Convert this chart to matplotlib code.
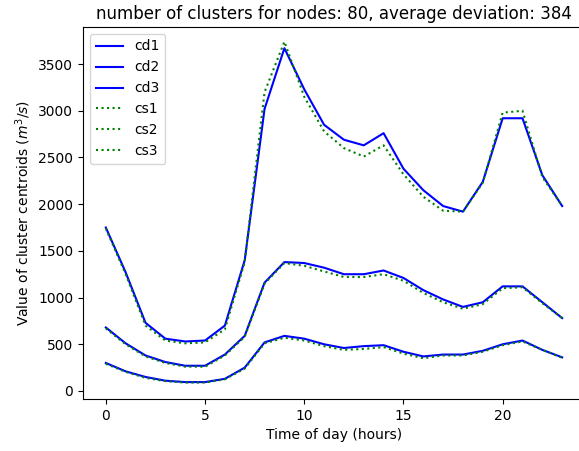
import matplotlib
matplotlib.use('Agg')
import matplotlib.pyplot as plt
import numpy as np

hours = np.arange(24)

# centroids, detailed clustering
cd1 = [1750, 1270, 730, 560, 530, 540, 700, 1400, 3020, 3670, 3230, 2850,
       2690, 2630, 2760, 2380, 2150, 1980, 1920, 2240, 2920, 2920, 2310, 1980]
cd2 = [680, 510, 380, 310, 270, 270, 390, 590, 1160, 1380, 1370, 1320,
       1250, 1250, 1290, 1210, 1080, 980, 900, 950, 1120, 1120, 950, 780]
cd3 = [300, 210, 150, 110, 95, 95, 130, 250, 520, 590, 560, 500,
       460, 480, 490, 420, 370, 390, 390, 430, 500, 540, 440, 360]

# centroids, simple clustering
cs1 = [1740, 1250, 700, 540, 510, 520, 660, 1380, 3200, 3740, 3150, 2780,
       2600, 2510, 2630, 2320, 2080, 1930, 1920, 2230, 2980, 3000, 2290, 1980]
cs2 = [670, 500, 370, 300, 260, 260, 380, 580, 1150, 1370, 1340, 1280,
       1220, 1220, 1250, 1180, 1050, 950, 880, 930, 1100, 1110, 940, 780]
cs3 = [290, 205, 140, 105, 90, 90, 125, 240, 510, 570, 540, 480,
       440, 450, 470, 400, 350, 380, 380, 420, 490, 530, 440, 355]

fig = plt.figure(figsize=(5.79, 4.51), dpi=100)
# axes runs a bit past the right edge like in the original crop
ax = fig.add_axes([83/579, 52/451, 502/579, 372/451])

for name, vals in (('cd1', cd1), ('cd2', cd2), ('cd3', cd3)):
    ax.plot(hours, vals, 'b-', label=name)
for name, vals in (('cs1', cs1), ('cs2', cs2), ('cs3', cs3)):
    ax.plot(hours, vals, 'g:', label=name)

ax.set_ylim(-86, 3897)
ax.set_xticks([0, 5, 10, 15, 20])
ax.set_title('number of clusters for nodes: 80, average deviation: 384')
ax.set_xlabel('Time of day (hours)')
ax.set_ylabel(r'Value of cluster centroids ($m^3/s$)')
ax.legend(loc='upper left')

fig.savefig('out.png', dpi=100)
